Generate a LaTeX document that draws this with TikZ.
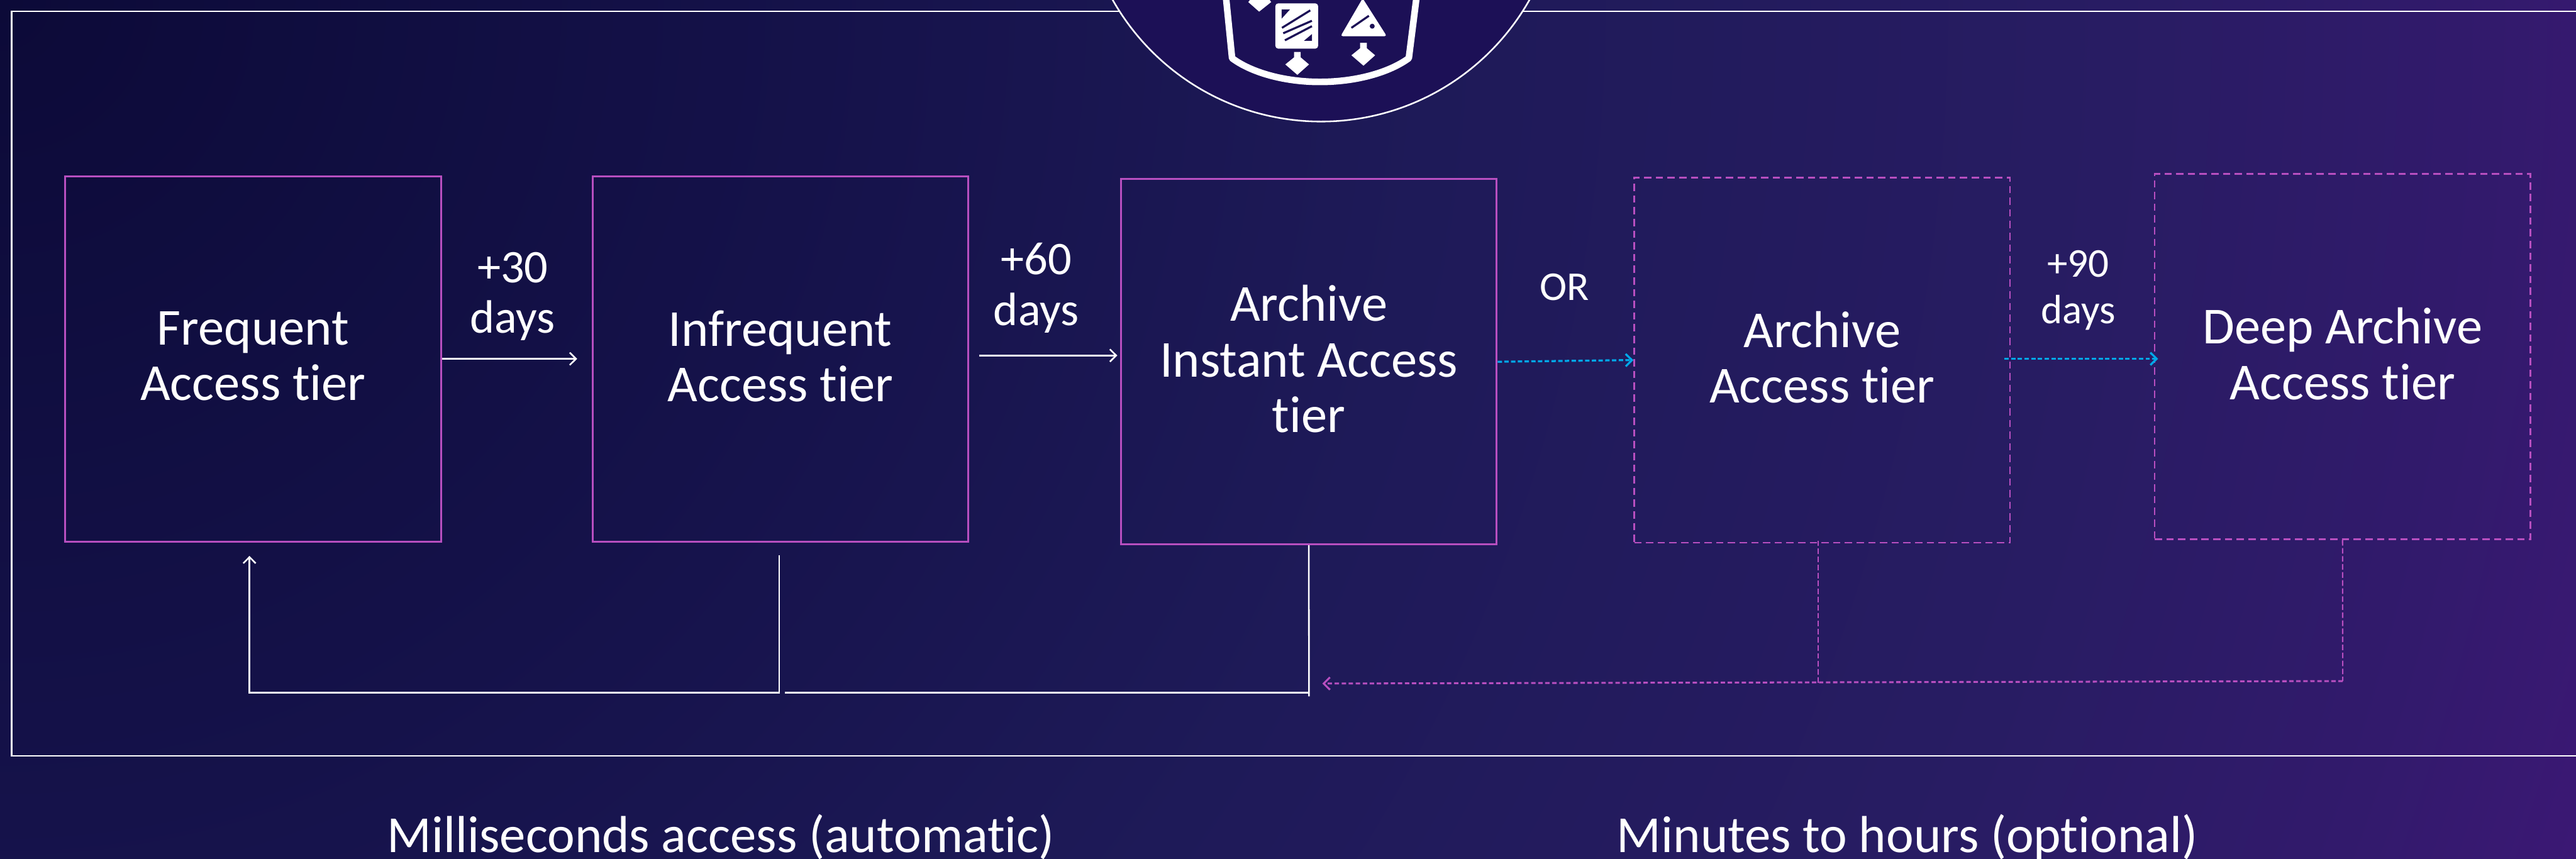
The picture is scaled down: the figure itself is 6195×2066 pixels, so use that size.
\documentclass[tikz,border=0pt]{standalone}
\usepackage{fontspec}
\setmainfont[Ligatures=NoCommon]{Carlito}
\usetikzlibrary{arrows.meta}
\definecolor{bgA}{HTML}{0C0A38}
\definecolor{bgB}{HTML}{15124A}
\definecolor{bgC}{HTML}{1E1A58}
\definecolor{bgD}{HTML}{281C63}
\definecolor{bgE}{HTML}{321A6C}
\definecolor{bgF}{HTML}{3B1874}
\definecolor{iconbg}{HTML}{1C1056}
\definecolor{tierpink}{HTML}{B84FC0}
\definecolor{tierblue}{HTML}{00A8E8}
\pgfdeclareradialshading{bggrad}{\pgfpoint{0bp}{0bp}}{color(0bp)=(bgA); color(7.44bp)=(bgB); color(13.06bp)=(bgC); color(19.3bp)=(bgD); color(22.7bp)=(bgE); color(24.7bp)=(bgF); color(50bp)=(bgF)}
\begin{document}
\begin{tikzpicture}[x=0.01cm, y=-0.01cm,
    tiertext/.style = {text=white, align=center, text depth=4pt, font=\fontsize{35.5}{38}\selectfont},
    tier/.style = {shape=rectangle, tiertext, draw=tierpink, line width=1.3pt,
      minimum width=9.03cm, minimum height=8.78cm},
    opttier/.style = {tier, line width=1.2pt, dash pattern=on 5pt off 3pt},
    dayslabel/.style = {text=white, align=center, font=\fontsize{32}{34.7}\selectfont},
    footlabel/.style = {text=white, anchor=base, font=\fontsize{35.6}{38}\selectfont},
    whiteline/.style = {draw=white, line width=1.1pt},
    barb/.style = {-{Straight Barb[length=4.3pt,width=8.5pt]}},
    blueflow/.style = {barb, draw=tierblue, line width=1.4pt, dash pattern=on 3pt off 1.6pt},
    pinkflow/.style = {barb, draw=tierpink, line width=1.3pt, dash pattern=on 3pt off 1.8pt},
    pinkstub/.style = {draw=tierpink, line width=0.9pt, dash pattern=on 3.8pt off 1.7pt}]
  \path[use as bounding box, clip] (0,0) rectangle (6195,2066);
  \shade[shading=bggrad] (-6600,-6600) rectangle (6600,6600);
  \draw[draw=white, line width=1.1pt] (28,27) rectangle (6300,1818);
  \node[circle, fill=iconbg, draw=white, line width=1.1pt, minimum size=11.5cm] (badge) at (3177,-283) {};

  \draw[white, line width=4.5pt, line join=round] (2948,-10) -- (2963,140)
    .. controls (3010,175) and (3090,197) .. (3174,197)
    .. controls (3260,197) and (3340,175) .. (3388,140) -- (3407,-10);
  \fill[white, rounded corners=2pt] (3067,8) rectangle (3170,117);
  \fill[iconbg] (3082,23) -- (3102,23) -- (3082,45) -- cycle;
  \fill[iconbg] (3155,82) -- (3155,98) -- (3136,98) -- cycle;
  \draw[iconbg, line width=1.4pt] (3083,67) -- (3151,25) (3086,80) -- (3155,50) (3090,97) -- (3155,63);
  \fill[white, rounded corners=1.5pt] (3277,-4) -- (3224,87) -- (3335,87) -- cycle;
  \draw[iconbg, line width=1.4pt] (3250,67) -- (3292,38);
  \fill[iconbg] (3300,63) circle (6);
  \fill[white] (3010,-5) -- (3002,5) -- (3028,28) -- (3057,5) -- (3050,-5) -- cycle;
  \foreach \ax/\ay in {3120/0, 3279/-22}
    \fill[white, shift={(\ax,\ay)}] (-8,125) -- (8,125) -- (8,138) -- (28,155) -- (0,180) -- (-29,155) -- (-8,138) -- cycle;

  \node[tier] (frequent) at (608.5,863) {Frequent\\Access tier};
  \node[tier] (infrequent) at (1876.5,863) {Infrequent\\Access tier};
  \node[tier] (instant) at (3147.5,870) {Archive\\Instant Access\\tier};
  \node[opttier] (archive) at (4382,866) {Archive\\Access tier};
  \node[opttier] (deep) at (5633.5,857.5) {Deep Archive\\Access tier};

  \node[dayslabel] (days30) at (1233,713) {+30\\days};
  \node[dayslabel] (days60) at (2492,693) {+60\\days};
  \node[dayslabel, font=\fontsize{28}{32}\selectfont] (days90) at (4998,698) {+90\\days};
  \node[text=white, font=\fontsize{28}{32}\selectfont] (orlabel) at (3762,690) {OR};
  \node[footlabel] (footfast) at (1734,2050) {Milliseconds access (automatic)};
  \node[footlabel] (footslow) at (4587,2050) {Minutes to hours (optional)};

  \coordinate (to30) at (1388,863);
  \coordinate (from60) at (2355,855);
  \coordinate (to60) at (2687,855);
  \coordinate (from90) at (4820,863);
  \coordinate (to90) at (5190,863);
  \coordinate (backA) at (1874,1335);
  \coordinate (backB) at (1874,1666);
  \coordinate (backC) at (600,1666);
  \coordinate (backD) at (600,1337);
  \coordinate (instdown) at (3148,1675);
  \coordinate (instcorner) at (3148,1666);
  \coordinate (instend) at (1887,1666);
  \coordinate (archtop) at (4373,1300);
  \coordinate (archdown) at (4373,1645);
  \coordinate (deepdown) at (5634,1638);
  \coordinate (pinktip) at (3180,1644);

  \draw[whiteline, barb] (frequent.east) -- (to30);
  \draw[whiteline, barb] (from60) -- (to60);
  \draw[blueflow] (instant.east) -- (archive.west);
  \draw[blueflow] (from90) -- (to90);
  \draw[whiteline, barb] (backA) -- (backB) -- (backC) -- (backD);
  \draw[whiteline] (instant.south) -- (instdown);
  \draw[whiteline] (instcorner) -- (instend);
  \draw[pinkstub] (deep.south) -- (deepdown);
  \draw[pinkstub] (archtop) -- (archdown);
  \draw[pinkflow] (deepdown) -- (pinktip);
\end{tikzpicture}
\end{document}
